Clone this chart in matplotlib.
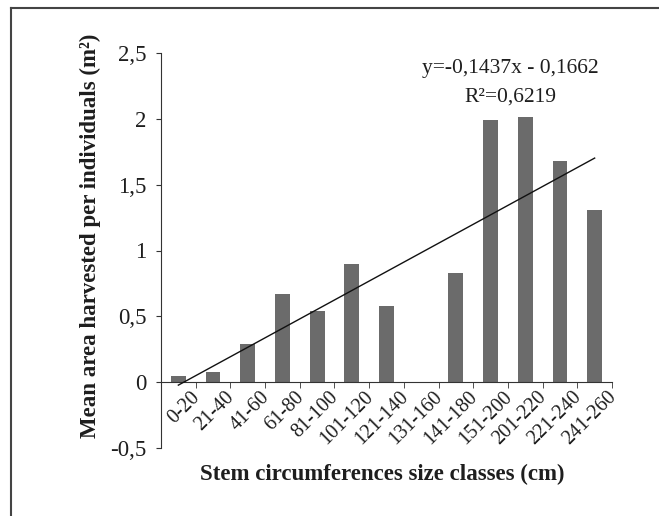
import numpy as np
import matplotlib
matplotlib.use("Agg")
import matplotlib.pyplot as plt
import matplotlib.transforms as mtransforms
from matplotlib.lines import Line2D

# data
classes = ["0-20", "21-40", "41-60", "61-80", "81-100", "101-120", "121-140",
           "131-160", "141-180", "151-200", "201-220", "221-240", "241-260"]
mean_area = [0.05, 0.075, 0.29, 0.67, 0.54, 0.90, 0.58,
             0.0, 0.83, 1.99, 2.015, 1.68, 1.31]
yticks = [-0.5, 0, 0.5, 1, 1.5, 2, 2.5]
ytick_labels = ["-0,5", "0", "0,5", "1", "1,5", "2", "2,5"]
slope, intercept = 0.1437, -0.1662
eq_text = "y=-0,1437x - 0,1662"
r2_text = "R²=0,6219"

plt.rcParams["font.family"] = ["Liberation Serif", "DejaVu Serif"]
txt = "#1e1e1e"

fig = plt.figure(figsize=(6.59, 5.16), dpi=100)
W, H = 659, 516
ax = fig.add_axes([161 / W, (H - 448) / H, 451 / W, 395 / H])

x = np.arange(len(classes))
ax.bar(x, mean_area, width=0.43, color="#6b6b6b", zorder=2)

# linear trend drawn over the class index 1..n
xi = x + 1
ax.plot(x, slope * xi + intercept, color="#111111", lw=1.0, zorder=3)

ax.set_xlim(-0.5, len(classes) - 0.5)
ax.set_ylim(-0.5, 2.5)

for s in ["top", "right"]:
    ax.spines[s].set_visible(False)
ax.spines["bottom"].set_position(("data", 0))
ax.spines["left"].set_color("#333333")
ax.spines["bottom"].set_color("#333333")

ax.set_yticks(yticks)
ax.set_yticklabels(ytick_labels, fontsize=16.5, color=txt)
ax.tick_params(axis="y", direction="out", length=3.5, pad=7, color="#333333")

ax.set_xticks(x)
ax.set_xticklabels(classes, rotation=45, ha="right", va="top",
                   rotation_mode="anchor", fontsize=14.5, color=txt)
ax.set_xticks(np.arange(len(classes) + 1) - 0.5, minor=True)
ax.tick_params(axis="x", which="major", length=0, pad=4)
ax.tick_params(axis="x", which="minor", direction="out", length=4, color="#333333")
offset = mtransforms.ScaledTranslation(12 / 100, 0, fig.dpi_scale_trans)
for lab in ax.get_xticklabels():
    lab.set_transform(lab.get_transform() + offset)

ax.text(0.774, 0.962, eq_text, transform=ax.transAxes, ha="center", va="center",
        fontsize=15.5, color=txt)
ax.text(0.774, 0.889, r2_text, transform=ax.transAxes, ha="center", va="center",
        fontsize=15.5, color=txt)

fig.text(90 / W, 1 - 236 / H, "Mean area harvested per individuals (m²)",
         rotation=90, ha="center", va="center", fontsize=16.5, fontweight="bold", color=txt)
fig.text(382 / W, 1 - 474 / H, "Stem circumferences size classes (cm)",
         ha="center", va="center", fontsize=16.5, fontweight="bold", color=txt)

# frame lines on the left and top edges
fig.add_artist(Line2D([11 / W, 11 / W], [0, 1 - 7.5 / H], transform=fig.transFigure,
                      color="#444444", lw=1.5))
fig.add_artist(Line2D([11 / W, 1], [1 - 7.5 / H, 1 - 7.5 / H], transform=fig.transFigure,
                      color="#444444", lw=1.5))

fig.savefig("out.png", dpi=100)
